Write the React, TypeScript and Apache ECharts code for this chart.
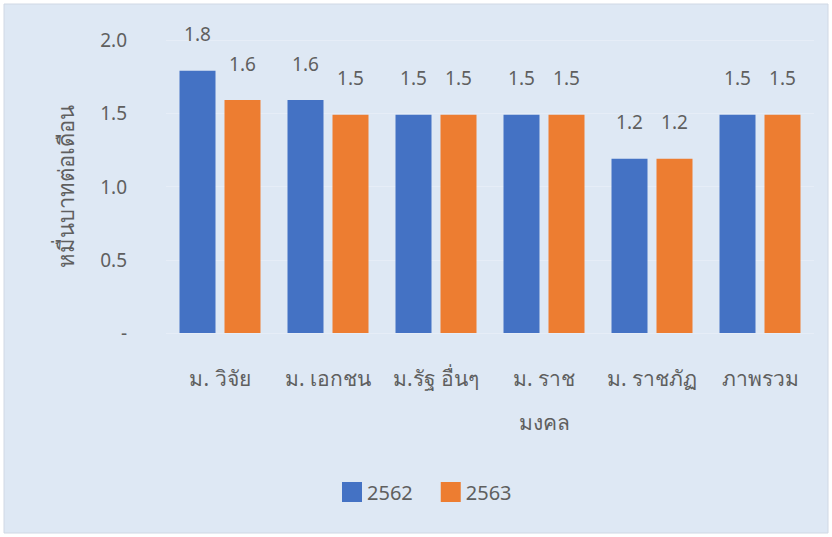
import React, { useEffect, useRef } from "react";
import * as echarts from "echarts";

const categories = ["ม. วิจัย", "ม. เอกชน", "ม.รัฐ อื่นๆ", "ม. ราช\nมงคล", "ม. ราชภัฏ", "ภาพรวม"];
const series2562 = [1.79, 1.59, 1.49, 1.49, 1.19, 1.49];
const series2563 = [1.59, 1.49, 1.49, 1.49, 1.19, 1.49];
const seriesNames = ["2562", "2563"];
const yTicks = [0, 0.5, 1.0, 1.5, 2.0];

const FONT = "'Noto Sans', 'DejaVu Sans', sans-serif";
const TXT = "#5f5f5f";

export default function App() {
  const ref = useRef<HTMLDivElement>(null);
  useEffect(() => {
    if (!ref.current) return;
    const chart = echarts.init(ref.current, undefined, { renderer: "svg" });
    const label = {
      show: true,
      position: "top",
      distance: 27,
      color: TXT,
      fontSize: 19,
      fontFamily: FONT,
      formatter: (p: any) => Number(p.value).toFixed(1),
    };
    chart.setOption({
      animation: false,
      backgroundColor: "#ffffff",
      textStyle: { fontFamily: FONT },
      graphic: [
        {
          type: "rect",
          z: -10,
          shape: { x: 4, y: 4, width: 824, height: 529 },
          style: { fill: "#DEE8F4", stroke: "#D0D8E4", lineWidth: 1 },
        },
      ],
      legend: {
        data: seriesNames,
        top: 477,
        left: 337,
        itemWidth: 20,
        itemHeight: 20,
        itemGap: 28,
        icon: "rect",
        textStyle: { color: TXT, fontSize: 20, fontFamily: FONT },
      },
      grid: { left: 166, right: 18, top: 40, bottom: 204 },
      xAxis: {
        type: "category",
        data: categories,
        axisLine: { show: false },
        axisTick: { show: false },
        axisLabel: {
          color: TXT,
          fontSize: 21,
          fontFamily: FONT,
          margin: 23,
          lineHeight: 44,
          interval: 0,
        },
      },
      yAxis: {
        type: "value",
        min: yTicks[0],
        max: yTicks[yTicks.length - 1],
        interval: 0.5,
        name: "หมื่นบาทต่อเดือน",
        nameLocation: "middle",
        nameGap: 90,
        nameRotate: 90,
        nameTextStyle: { color: TXT, fontSize: 22, fontFamily: FONT },
        axisLine: { show: false },
        axisTick: { show: false },
        splitLine: { show: true, lineStyle: { color: "#E6EDF7", width: 1 } },
        axisLabel: {
          color: TXT,
          fontSize: 19,
          fontFamily: FONT,
          margin: 39,
          formatter: (v: number) => (v === 0 ? "-" : v.toFixed(1)),
        },
      },
      series: [
        {
          name: seriesNames[0],
          type: "bar",
          data: series2562,
          barGap: "25%",
          barCategoryGap: "25%",
          itemStyle: { color: "#4472C4" },
          label,
        },
        {
          name: seriesNames[1],
          type: "bar",
          data: series2563,
          barGap: "25%",
          barCategoryGap: "25%",
          itemStyle: { color: "#ED7D31" },
          label,
        },
      ],
    });
    return () => chart.dispose();
  }, []);
  return (
    <div
      ref={ref}
      style={{ position: "fixed", left: 0, top: 0, width: 832, height: 537 }}
    />
  );
}
